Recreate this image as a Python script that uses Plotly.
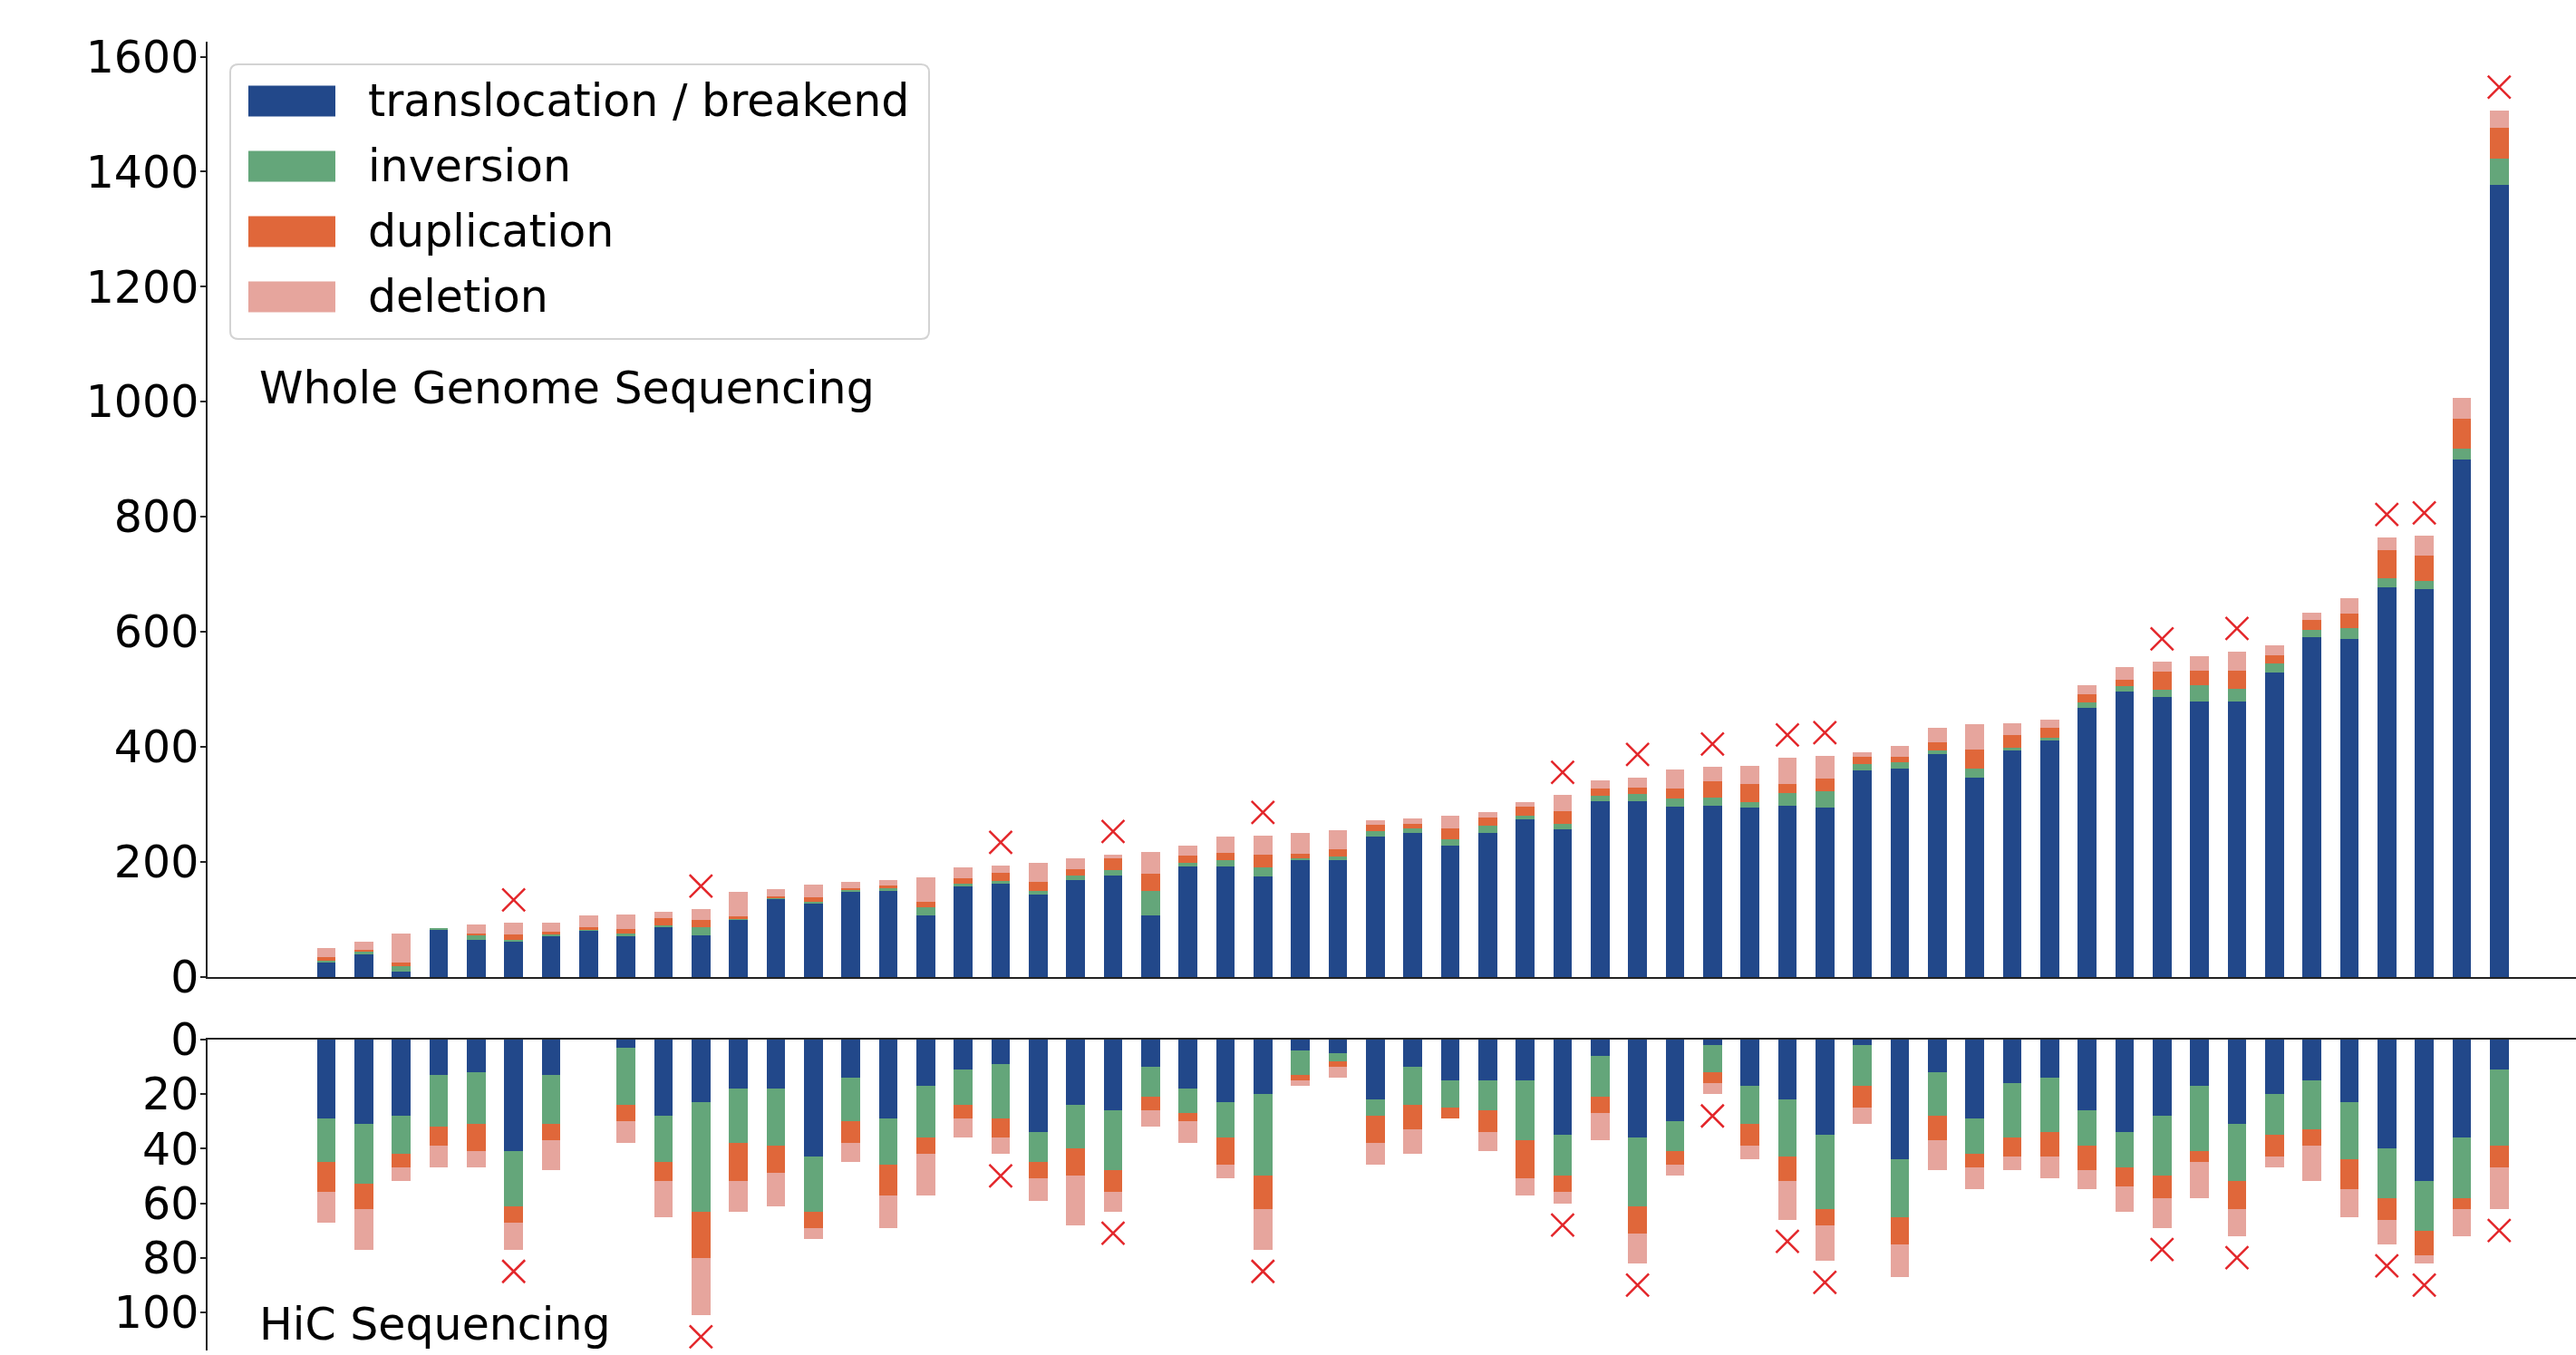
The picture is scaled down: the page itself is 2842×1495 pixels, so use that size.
import plotly.graph_objects as go

# Structural-variant counts per sample, ordered by WGS total
samples = list(range(59))

wgs_translocation = [26, 40, 9, 82, 64, 62, 71, 81, 71, 88, 73, 100, 136, 127, 149, 151, 107, 159, 163, 143,
                     168, 177, 107, 192, 192, 175, 203, 203, 245, 250, 229, 251, 274, 257, 306, 306, 296, 298, 294, 298,
                     294, 359, 363, 388, 347, 395, 411, 468, 496, 487, 479, 479, 529, 591, 587, 678, 674, 900, 1377]
wgs_inversion = [3, 5, 10, 3, 8, 3, 3, 1, 4, 2, 14, 1, 2, 4, 2, 3, 14, 3, 4, 7,
                 8, 9, 43, 7, 12, 16, 4, 7, 9, 9, 10, 12, 6, 10, 9, 12, 15, 14, 10, 22,
                 29, 11, 10, 6, 16, 3, 5, 10, 10, 12, 28, 22, 16, 12, 20, 15, 15, 18, 45]
wgs_duplication = [5, 3, 6, 0, 4, 9, 5, 4, 8, 13, 13, 4, 2, 7, 4, 5, 10, 10, 14, 16,
                   12, 21, 29, 12, 12, 21, 7, 12, 11, 8, 20, 15, 16, 22, 13, 11, 16, 28, 32, 16,
                   22, 13, 10, 14, 33, 22, 17, 13, 11, 32, 25, 31, 15, 18, 25, 49, 44, 53, 54]
wgs_deletion = [16, 13, 51, 0, 16, 20, 15, 21, 26, 11, 18, 43, 13, 23, 11, 9, 43, 18, 13, 32,
                19, 6, 39, 18, 28, 34, 36, 33, 7, 9, 22, 9, 8, 27, 14, 18, 34, 25, 31, 45,
                40, 8, 19, 25, 44, 21, 15, 17, 22, 17, 26, 34, 16, 13, 26, 22, 34, 36, 31]

hic_translocation = [29, 31, 28, 13, 12, 41, 13, 0, 3, 28, 23, 18, 18, 43, 14, 29, 17, 11, 9, 34,
                     24, 26, 10, 18, 23, 20, 4, 5, 22, 10, 15, 15, 15, 35, 6, 36, 30, 2, 17, 22,
                     35, 2, 44, 12, 29, 16, 14, 26, 34, 28, 17, 31, 20, 15, 23, 40, 52, 36, 11]
hic_inversion = [16, 22, 14, 19, 19, 20, 18, 0, 21, 17, 40, 20, 21, 20, 16, 17, 19, 13, 20, 11,
                 16, 22, 11, 9, 13, 30, 9, 3, 6, 14, 10, 11, 22, 15, 15, 25, 11, 10, 14, 21,
                 27, 15, 21, 16, 13, 20, 20, 13, 13, 22, 24, 21, 15, 18, 21, 18, 18, 22, 28]
hic_duplication = [11, 9, 5, 7, 10, 6, 6, 0, 6, 7, 17, 14, 10, 6, 8, 11, 6, 5, 7, 6,
                   10, 8, 5, 3, 10, 12, 2, 2, 10, 9, 4, 8, 14, 6, 6, 10, 5, 4, 8, 9,
                   6, 8, 10, 9, 5, 7, 9, 9, 7, 8, 4, 10, 8, 6, 11, 8, 9, 4, 8]
hic_deletion = [11, 15, 5, 8, 6, 10, 11, 0, 8, 13, 21, 11, 12, 4, 7, 12, 15, 7, 6, 8,
                18, 7, 6, 8, 5, 15, 2, 4, 8, 9, 0, 7, 6, 4, 10, 11, 4, 4, 5, 14,
                13, 6, 12, 11, 8, 5, 8, 7, 9, 11, 13, 10, 4, 13, 10, 9, 3, 10, 15]

# Samples flagged in both assays
flagged = [5, 10, 18, 21, 25, 33, 35, 37, 39, 40, 49, 51, 55, 56, 58]

categories = ["translocation / breakend", "inversion", "duplication", "deletion"]
colors = ["#22488a", "#64a67a", "#e0673a", "#e6a59d"]
wgs_series = [wgs_translocation, wgs_inversion, wgs_duplication, wgs_deletion]
hic_series = [hic_translocation, hic_inversion, hic_duplication, hic_deletion]

W, H = 2842, 1495
FONT = "DejaVu Sans"
FS = 49


def px(x):
    return x / W


def py(y):
    return 1 - y / H


fig = go.Figure()

for name, color, vals in zip(categories, colors, wgs_series):
    fig.add_trace(go.Bar(x=samples, y=vals, name=name, marker=dict(color=color, line=dict(width=0)),
                         width=0.5, xaxis="x", yaxis="y", showlegend=False))
for name, color, vals in zip(categories, colors, hic_series):
    fig.add_trace(go.Bar(x=samples, y=vals, name=name, marker=dict(color=color, line=dict(width=0)),
                         width=0.5, xaxis="x2", yaxis="y2", showlegend=False))

# Flag markers just beyond each flagged stack
wgs_totals = [sum(s[i] for s in wgs_series) for i in samples]
hic_totals = [sum(s[i] for s in hic_series) for i in samples]
marker_style = dict(symbol="x-thin", size=25, color="#e3262a", line=dict(color="#e3262a", width=2.5))
fig.add_trace(go.Scatter(x=flagged, y=[wgs_totals[i] + 40 for i in flagged], mode="markers",
                         marker=marker_style, xaxis="x", yaxis="y", showlegend=False))
fig.add_trace(go.Scatter(x=flagged, y=[hic_totals[i] + 8 for i in flagged], mode="markers",
                         marker=marker_style, xaxis="x2", yaxis="y2", showlegend=False))

x_dom = [px(229), 1.0]
x_rng = [-3.17, 60.05]
tickfont = dict(family=FONT, size=FS, color="black")
common = dict(showgrid=False, zeroline=False, showline=True, linecolor="#222222", linewidth=1.6, automargin=False)
yticks = dict(ticks="outside", ticklen=6, tickwidth=1.6, tickcolor="#222222", tickfont=tickfont,
              ticklabelstandoff=-8)

fig.update_layout(
    width=W, height=H,
    margin=dict(l=0, r=0, t=0, b=0, pad=0, autoexpand=False),
    paper_bgcolor="white", plot_bgcolor="white",
    barmode="stack", bargap=0, showlegend=False,
    font=dict(family=FONT, size=FS, color="black"),
    xaxis=dict(domain=x_dom, range=x_rng, anchor="y", showticklabels=False, ticks="", **common),
    yaxis=dict(domain=[py(1078), py(46)], range=[0, 1626], anchor="x", tickvals=list(range(0, 1601, 200)),
               **yticks, **common),
    xaxis2=dict(domain=x_dom, range=x_rng, anchor="y2", side="top", showticklabels=False, ticks="", **common),
    yaxis2=dict(domain=[py(1490), py(1147)], range=[114, 0], anchor="x2", tickvals=list(range(0, 101, 20)),
                **yticks, **common),
)

# Legend box with rounded corners
x0, x1, y0, y1, r = 254, 1025, 71, 374, 9
path = (f"M {px(x0 + r)} {py(y0)} L {px(x1 - r)} {py(y0)} Q {px(x1)} {py(y0)} {px(x1)} {py(y0 + r)} "
        f"L {px(x1)} {py(y1 - r)} Q {px(x1)} {py(y1)} {px(x1 - r)} {py(y1)} "
        f"L {px(x0 + r)} {py(y1)} Q {px(x0)} {py(y1)} {px(x0)} {py(y1 - r)} "
        f"L {px(x0)} {py(y0 + r)} Q {px(x0)} {py(y0)} {px(x0 + r)} {py(y0)} Z")
shapes = [dict(type="path", xref="paper", yref="paper", path=path,
               line=dict(color="#d3d3d3", width=2), fillcolor="rgba(255,255,255,0.8)", layer="above")]
annotations = []
for i, (name, color) in enumerate(zip(categories, colors)):
    cy = 111.5 + 72 * i
    shapes.append(dict(type="rect", xref="paper", yref="paper", x0=px(274), x1=px(370),
                       y0=py(cy + 17), y1=py(cy - 17), fillcolor=color, line=dict(width=0), layer="above"))
    annotations.append(dict(x=px(404), y=py(cy), xref="paper", yref="paper", text=name, showarrow=False,
                            xanchor="left", yanchor="middle", font=dict(family=FONT, size=FS, color="black")))

annotations.append(dict(x=px(284), y=py(428), xref="paper", yref="paper", text="Whole Genome Sequencing",
                        showarrow=False, xanchor="left", yanchor="middle",
                        font=dict(family=FONT, size=FS, color="black")))
annotations.append(dict(x=px(284), y=py(1461), xref="paper", yref="paper", text="HiC Sequencing",
                        showarrow=False, xanchor="left", yanchor="middle",
                        font=dict(family=FONT, size=FS, color="black")))

fig.update_layout(shapes=shapes, annotations=annotations)

fig.write_html("out.html", config={"displayModeBar": False})
